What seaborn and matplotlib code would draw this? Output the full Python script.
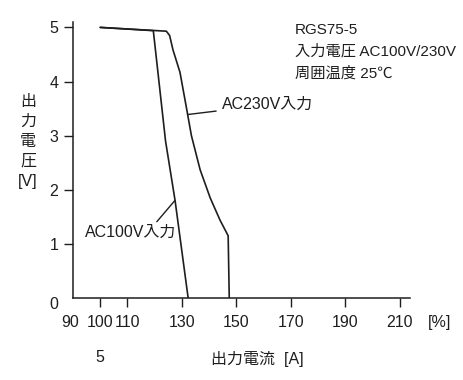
import matplotlib
matplotlib.use("Agg")
import matplotlib.pyplot as plt
import numpy as np
import pandas as pd
import seaborn as sns
from matplotlib.transforms import ScaledTranslation

# ---- data ----
ac100_x = [100, 119.5, 124.0, 127.5, 132.3]
ac100_y = [5.0, 4.94, 2.9, 1.8, 0.0]
ac230_x = [100, 124.3, 125.5, 126.7, 129.3, 131.8, 133.5, 136.7, 140.4, 144.0, 147.0, 147.4]
ac230_y = [5.0, 4.93, 4.85, 4.59, 4.17, 3.48, 3.0, 2.37, 1.85, 1.44, 1.15, 0.0]
series_names = ["AC100V入力", "AC230V入力"]
x_ticks = [90, 100, 110, 130, 150, 170, 190, 210]
y_ticks = [0, 1, 2, 3, 4, 5]
info_lines = ["RGS75-5", "入力電圧 AC100V/230V", "周囲温度 25℃"]

df = pd.concat([
    pd.DataFrame({"x": ac100_x, "y": ac100_y, "series": series_names[0]}),
    pd.DataFrame({"x": ac230_x, "y": ac230_y, "series": series_names[1]}),
], ignore_index=True)

sns.set_theme(style="ticks")
fams = ["Liberation Sans", "Noto Sans CJK JP", "DejaVu Sans"]
plt.rcParams["font.family"] = fams
plt.rcParams["axes.unicode_minus"] = False

ink = "#1e1e1e"
fig = plt.figure(figsize=(4.63, 3.80), dpi=100)
ax = fig.add_axes([73 / 463, 1 - 298 / 380, (410 - 73) / 463, (298 - 22) / 380])

sns.lineplot(data=df, x="x", y="y", hue="series", units="series", estimator=None, sort=False,
             palette={series_names[0]: ink, series_names[1]: ink}, linewidth=1.2,
             legend=False, ax=ax)

ax.set_xlim(90, 213.8)
ax.set_ylim(0, 5.1)
sns.despine(ax=ax)
for s in ("left", "bottom"):
    ax.spines[s].set_color(ink)
    ax.spines[s].set_linewidth(1.1)

ax.set_xticks(x_ticks)
ax.set_xticklabels([str(v) for v in x_ticks])
ax.set_yticks(y_ticks)
ax.set_yticklabels([str(v) for v in y_ticks])
ax.tick_params(axis="both", direction="out", length=6.5, width=1.0, color=ink,
               labelcolor=ink, labelsize=11.5)
ax.tick_params(axis="x", pad=5.5)
ax.tick_params(axis="y", pad=4)
ax.set_xlabel("")
ax.set_ylabel("")

# origin labels: no tick mark, shifted slightly
ax.xaxis.get_major_ticks()[0].tick1line.set_visible(False)
ax.yaxis.get_major_ticks()[0].tick1line.set_visible(False)
lab0 = ax.get_yticklabels()[0]
lab0.set_transform(lab0.get_transform() + ScaledTranslation(0, -5 / 100, fig.dpi_scale_trans))
lab90 = ax.get_xticklabels()[0]
lab90.set_transform(lab90.get_transform() + ScaledTranslation(-3 / 100, 0, fig.dpi_scale_trans))

# annotations
ax.annotate(series_names[1], xy=(132.1, 3.39), xytext=(144.8, 3.57), ha="left", va="center",
            fontsize=11.5, color=ink,
            arrowprops=dict(arrowstyle="-", color=ink, lw=1.0, shrinkA=2, shrinkB=0))
ax.plot([120.8, 127.4], [1.41, 1.80], color=ink, lw=1.0)
ax.text(94.4, 1.22, series_names[0], ha="left", va="center", fontsize=11.5, color=ink)

for i, line in enumerate(info_lines):
    fig.text(295 / 463, 1 - (30 + 21.5 * i) / 380, line, ha="left", va="center",
             fontsize=11, color=ink)

# axis labels
fig.text(28 / 463, 1 - 141.5 / 380, "出\n力\n電\n圧\n[V]", ha="center", va="center",
         fontsize=11.5, color=ink, linespacing=1.4)
fig.text(257.5 / 463, 1 - 359 / 380, "出力電流  [A]", ha="center", va="center",
         fontsize=11.5, color=ink)
fig.text(100 / 463, 1 - 358 / 380, "5", ha="center", va="center", fontsize=11.5, color=ink)
fig.text(440 / 463, 1 - 322 / 380, "[%]", ha="center", va="center", fontsize=11.5, color=ink)

fig.savefig("out.png", dpi=100, facecolor="white")
